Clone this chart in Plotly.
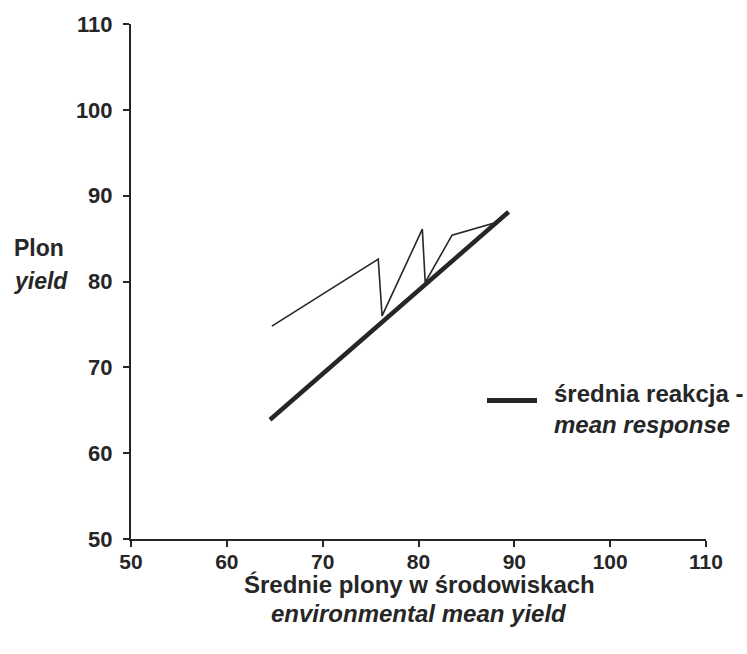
import plotly.graph_objects as go

# Environmental mean yield (x) and observed yield (y) for the genotype
env_mean = [64.7, 75.8, 76.2, 80.4, 80.7, 83.5, 87.9, 89.2]
genotype_yield = [74.8, 82.6, 76.0, 86.1, 79.9, 85.4, 86.8, 88.1]

# Mean response line
mean_x = [64.5, 89.4]
mean_y = [63.9, 88.1]

tick_vals = [50, 60, 70, 80, 90, 100, 110]
tick_text = ["50", "60", "70", "80", "90", "100", "110"]

ink = "#262626"
font_family = "Liberation Sans, Arial, sans-serif"

fig = go.Figure()

fig.add_trace(go.Scatter(
    x=mean_x, y=mean_y, mode="lines",
    line=dict(color=ink, width=4.5),
    showlegend=False, hoverinfo="skip",
))

fig.add_trace(go.Scatter(
    x=env_mean, y=genotype_yield, mode="lines",
    line=dict(color=ink, width=1.6),
    showlegend=False, hoverinfo="skip",
))

axis_common = dict(
    range=[50, 110],
    tickvals=tick_vals,
    ticktext=tick_text,
    showgrid=False,
    zeroline=False,
    showline=True,
    linecolor=ink,
    linewidth=2,
    ticks="outside",
    ticklen=6,
    tickwidth=1.5,
    tickcolor=ink,
)

fig.update_layout(
    width=747,
    height=654,
    margin=dict(l=131, r=41, t=22, b=115),
    paper_bgcolor="white",
    plot_bgcolor="white",
    xaxis=dict(**axis_common, ticklabelstandoff=-3,
               tickfont=dict(family=font_family, size=21, color=ink, weight="bold")),
    yaxis=dict(**axis_common, ticklabelstandoff=6,
               tickfont=dict(family=font_family, size=22, color=ink, weight="bold")),
    font=dict(family=font_family, color=ink),
)

# Y axis title
fig.add_annotation(
    xref="paper", yref="paper", x=-0.207, y=(539 - 247) / 517,
    xanchor="left", yanchor="middle", showarrow=False, align="left",
    text="<b>Plon</b>", font=dict(size=23, color=ink),
)
fig.add_annotation(
    xref="paper", yref="paper", x=-0.207, y=(539 - 280) / 517,
    xanchor="left", yanchor="middle", showarrow=False, align="left",
    text="<b><i>yield</i></b>", font=dict(size=23, color=ink),
)

# X axis title
fig.add_annotation(
    xref="paper", yref="paper", x=(419 - 131) / 575, y=(539 - 585) / 517,
    xanchor="center", yanchor="middle", showarrow=False,
    text="<b>Średnie plony w środowiskach</b>", font=dict(size=24, color=ink),
)
fig.add_annotation(
    xref="paper", yref="paper", x=(419 - 131) / 575, y=(539 - 614) / 517,
    xanchor="center", yanchor="middle", showarrow=False,
    text="<b><i>environmental mean yield</i></b>", font=dict(size=24, color=ink),
)

# Legend: sample line and label
leg_y = (539 - 400) / 517
fig.add_shape(
    type="line", xref="paper", yref="paper",
    x0=(487 - 131) / 575, x1=(537 - 131) / 575, y0=leg_y, y1=leg_y,
    line=dict(color=ink, width=5),
)
fig.add_annotation(
    xref="paper", yref="paper", x=(552 - 131) / 575, y=(539 - 393) / 517,
    xanchor="left", yanchor="middle", showarrow=False, align="left",
    text="<b>średnia reakcja -</b>", font=dict(size=24, color=ink),
)
fig.add_annotation(
    xref="paper", yref="paper", x=(552 - 131) / 575, y=(539 - 424) / 517,
    xanchor="left", yanchor="middle", showarrow=False, align="left",
    text="<b><i>mean response</i></b>", font=dict(size=24, color=ink),
)

fig.write_html("out.html")
